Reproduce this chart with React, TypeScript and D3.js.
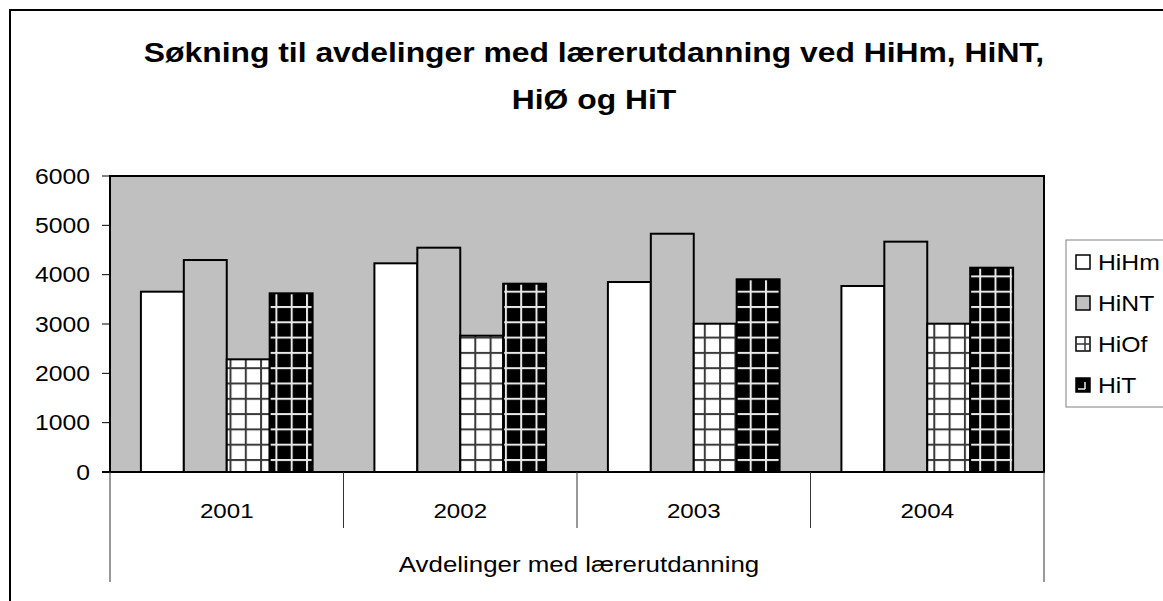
import * as d3 from 'd3';

// values
const years = ['2001', '2002', '2003', '2004'];
const seriesNames = ['HiHm', 'HiNT', 'HiOf', 'HiT'];
const hihm = [3655, 4230, 3851, 3770];
const hint = [4297, 4547, 4830, 4669];
const hiof = [2284, 2763, 3006, 3006];
const hit = [3622, 3817, 3906, 4141];
const yTicks = [0, 1000, 2000, 3000, 4000, 5000, 6000];
const titleLines = ['Søkning til avdelinger med lærerutdanning ved HiHm, HiNT,', 'HiØ og HiT'];
const axisTitle = 'Avdelinger med lærerutdanning';

const seriesValues = [hihm, hint, hiof, hit];
const fills = ['#ffffff', '#c0c0c0', 'url(#gridLight)', 'url(#gridDark)'];

const W = 1163;
const H = 601;
const plot = { left: 110, right: 1044, top: 176, bottom: 472 };
const font = '"Liberation Sans", Arial, sans-serif';
const stretch = 1.15; // the picture is a bit wider than it is tall

const Label = ({ x, y, size, anchor = 'middle', bold = false, children }) => (
  <text
    transform={`translate(${x},${y}) scale(${stretch},1)`}
    fontFamily={font}
    fontSize={size}
    fontWeight={bold ? 'bold' : 'normal'}
    textAnchor={anchor}
    fill="#000"
  >
    {children}
  </text>
);

// small legend keys, drawn like the Excel swatches
const Swatch = ({ x, y, i }) => {
  const s = 14;
  const base = i === 3 ? '#000' : i === 1 ? '#c0c0c0' : '#fff';
  return (
    <g>
      <rect x={x} y={y} width={s} height={s} fill={base} stroke="#000" strokeWidth={1.5} />
      {i === 2 && (
        <g stroke="#333" strokeWidth={1.5}>
          <line x1={x} x2={x + s} y1={y + s / 2} y2={y + s / 2} />
          <line x1={x + 9} x2={x + 9} y1={y} y2={y + s} />
        </g>
      )}
      {i === 3 && (
        <g stroke="#eee" strokeWidth={1.5}>
          <line x1={x + 9} x2={x + 9} y1={y + 4} y2={y + 11} />
          <line x1={x + 2} x2={x + 9} y1={y + 11} y2={y + 11} />
        </g>
      )}
    </g>
  );
};

export default function App() {
  const x = d3.scaleBand().domain(years).range([plot.left, plot.right]).padding(0);
  const xs = d3.scaleBand().domain(seriesNames).range([0, x.bandwidth()]).paddingInner(0).paddingOuter(0.72);
  const y = d3.scaleLinear().domain([0, 6000]).range([plot.bottom, plot.top]);

  const bounds = [...years.map(d => x(d)), plot.right];
  const cell = 15.3;

  return (
    <svg width={W} height={H} style={{ position: 'absolute', left: 0, top: 0, background: '#fff' }}>
      <defs>
        <pattern id="gridLight" patternUnits="userSpaceOnUse" width={cell} height={cell}>
          <rect width={cell} height={cell} fill="#fff" />
          <rect x={0} y={0} width={2} height={cell} fill="#3a3a3a" />
          <rect x={0} y={0} width={cell} height={2} fill="#3a3a3a" />
        </pattern>
        <pattern id="gridDark" patternUnits="userSpaceOnUse" width={cell} height={cell}>
          <rect width={cell} height={cell} fill="#000" />
          <rect x={0} y={0} width={2} height={cell} fill="#e8e8e8" />
          <rect x={0} y={0} width={cell} height={2} fill="#e8e8e8" />
        </pattern>
      </defs>

      {/* chart frame */}
      <rect x={10} y={10} width={W + 40} height={H + 40} fill="#fff" stroke="#000" strokeWidth={2} />

      {titleLines.map((t, i) => (
        <Label key={i} x={594} y={62 + i * 47} size={27.7} bold>{t}</Label>
      ))}

      {/* plot area */}
      <rect
        x={plot.left}
        y={plot.top}
        width={plot.right - plot.left}
        height={plot.bottom - plot.top}
        fill="#c0c0c0"
        stroke="#000"
        strokeWidth={2}
      />

      {/* bars */}
      {seriesValues.map((vals, si) =>
        vals.map((v, ci) => (
          <rect
            key={`${si}-${ci}`}
            x={x(years[ci]) + xs(seriesNames[si])}
            y={y(v)}
            width={xs.bandwidth()}
            height={y(0) - y(v)}
            fill={fills[si]}
            stroke="#000"
            strokeWidth={2}
          />
        ))
      )}

      {/* y axis */}
      <line x1={plot.left} x2={plot.left} y1={plot.top} y2={plot.bottom} stroke="#000" strokeWidth={2} />
      {yTicks.map(t => (
        <g key={t}>
          <line x1={plot.left - 8} x2={plot.left} y1={y(t)} y2={y(t)} stroke="#000" strokeWidth={1} />
          <Label x={90} y={y(t) + 7.5} size={21.5} anchor="end">{t}</Label>
        </g>
      ))}

      {/* x axis, with category dividers */}
      <line x1={plot.left - 8} x2={plot.right} y1={plot.bottom} y2={plot.bottom} stroke="#000" strokeWidth={2} />
      {bounds.map((b, i) => {
        const outer = i === 0 || i === bounds.length - 1;
        return (
          <line key={i} x1={b} x2={b} y1={plot.bottom} y2={outer ? 582 : 528} stroke="#333" strokeWidth={1} />
        );
      })}
      {years.map(yr => (
        <Label key={yr} x={x(yr) + x.bandwidth() / 2} y={518} size={21}>{yr}</Label>
      ))}
      <Label x={(plot.left + plot.right) / 2 + 2} y={572} size={22.5}>{axisTitle}</Label>

      {/* legend */}
      <rect x={1066} y={240} width={120} height={167} fill="#fff" stroke="#808080" strokeWidth={1} />
      {seriesNames.map((s, i) => {
        const cy = 262 + i * 41;
        return (
          <g key={s}>
            <Swatch x={1076} y={cy - 7} i={i} />
            <Label x={1098} y={cy + 8} size={21.5} anchor="start">{s}</Label>
          </g>
        );
      })}
    </svg>
  );
}
